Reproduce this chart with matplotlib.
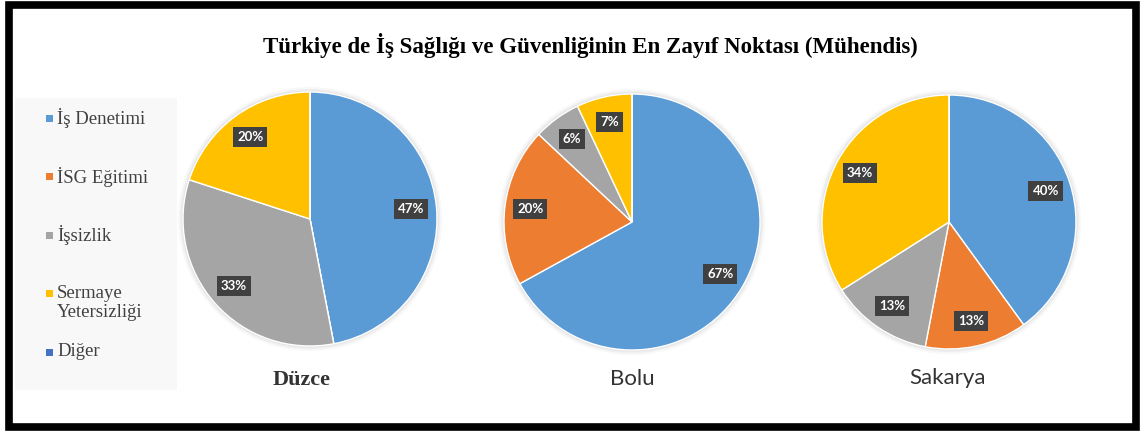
import matplotlib.pyplot as plt
from matplotlib.patches import Rectangle, Circle

# ====================== data ======================
categories = ["İş Denetimi", "İSG Eğitimi", "İşsizlik", "Sermaye\nYetersizliği", "Diğer"]
colors = ["#5B9BD5", "#ED7D31", "#A5A5A5", "#FFC000", "#4472C4"]

cities = ["Düzce", "Bolu", "Sakarya"]
duzce = [47, 0, 33, 20, 0]
bolu = [67, 20, 6, 7, 0]
sakarya = [40, 13, 13, 34, 0]
city_values = [duzce, bolu, sakarya]

title = "Türkiye de İş Sağlığı ve Güvenliğinin En Zayıf Noktası (Mühendis)"

# ====================== layout (pixels) ======================
W, H = 1144, 434
fig = plt.figure(figsize=(W / 100, H / 100), dpi=100)
fig.patch.set_facecolor("white")

# outer black frame
fig.patches.append(Rectangle((9 / W, 1 - 427 / H), 1127 / W, 422 / H,
                             transform=fig.transFigure, fill=False,
                             edgecolor="black", linewidth=5.5))

fig.text(590 / W, 1 - 46 / H, title, ha="center", va="center",
         fontsize=16.5, fontweight="bold", family="Liberation Serif")

# legend background
fig.patches.append(Rectangle((15 / W, 1 - 390 / H), 162 / W, 292 / H,
                             transform=fig.transFigure, facecolor="#F8F8F8",
                             edgecolor="none"))
legend_y = [118, 177, 235, 303, 352]
for cat, col, y in zip(categories, colors, legend_y):
    first_y = y - 10 if "\n" in cat else y
    fig.patches.append(Rectangle((46 / W, 1 - (first_y + 3.5) / H), 7 / W, 7 / H,
                                 transform=fig.transFigure, facecolor=col,
                                 edgecolor="none"))
    fig.text(57 / W, 1 - y / H, cat, ha="left", va="center", fontsize=13.5,
             family="Liberation Serif", color="#404040", linespacing=1.1)

# pies
centers = [(310, 219, 127), (632, 222, 128), (949, 222, 127)]
name_pos = [(302, 380), (632, 379), (948, 378)]
name_font = [("Liberation Serif", "bold"), ("Lato", "normal"), ("Lato", "normal")]
pad = 1.05

for vals, (cx, cy, r), name, (nx, ny), (fam, fw) in zip(city_values, centers, cities,
                                                        name_pos, name_font):
    rp = r * pad
    ax = fig.add_axes([(cx - rp) / W, 1 - (cy + rp) / H, 2 * rp / W, 2 * rp / H])
    # soft shadow
    for rr, a in [(1.04, 0.05), (1.025, 0.07), (1.012, 0.1)]:
        ax.add_patch(Circle((0, 0), rr, facecolor="gray", edgecolor="none",
                            alpha=a, zorder=0))
    wedges, texts, autotexts = ax.pie(
        vals, colors=colors, startangle=90, counterclock=False,
        autopct=lambda p: f"{p:.0f}%" if p > 0 else "", pctdistance=0.8,
        wedgeprops=dict(edgecolor="white", linewidth=1.0))
    for t in autotexts:
        t.set_color("white")
        t.set_fontsize(9.5)
        t.set_family("Lato")
        t.set_fontweight("bold")
        t.set_bbox(dict(boxstyle="square,pad=0.3", facecolor="#404040",
                        edgecolor="none"))
    ax.set_xlim(-pad, pad)
    ax.set_ylim(-pad, pad)
    ax.set_aspect("equal")
    ax.axis("off")
    fig.text(nx / W, 1 - ny / H, name, ha="center", va="center", fontsize=16,
             family=fam, fontweight=fw, color="#333333")

plt.savefig("out.png", dpi=100)
